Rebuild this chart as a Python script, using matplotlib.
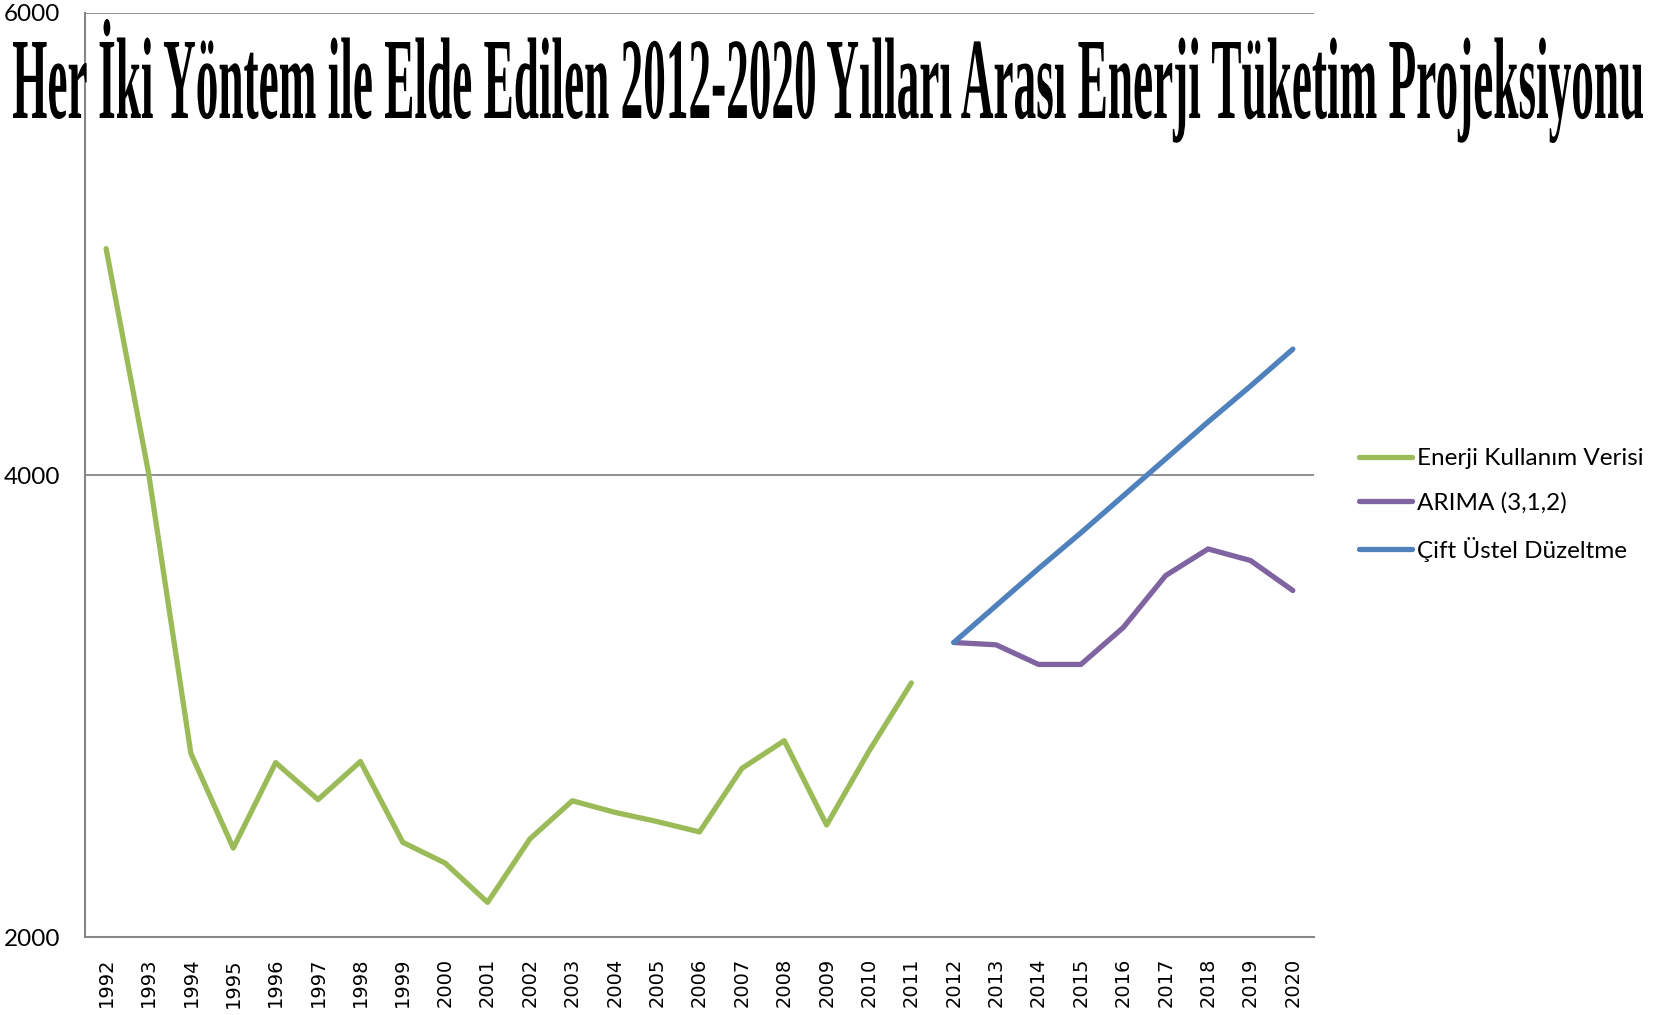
import matplotlib.pyplot as plt
from matplotlib.font_manager import FontProperties
from matplotlib.textpath import TextPath
from matplotlib.patches import PathPatch
from matplotlib.transforms import Affine2D

# Data
years = list(range(1992, 2021))
usage_years = list(range(1992, 2012))
usage = [4980, 4010, 2795, 2385, 2755, 2595, 2760, 2410, 2320, 2150,
         2425, 2590, 2540, 2500, 2455, 2730, 2850, 2485, 2805, 3100]
forecast_years = list(range(2012, 2021))
arima = [3275, 3265, 3180, 3180, 3340, 3565, 3680, 3630, 3500]
holt = [3275, 3435, 3595, 3750, 3910, 4070, 4230, 4385, 4545]

title = 'Her İki Yöntem ile Elde Edilen 2012-2020 Yılları Arası Enerji Tüketim Projeksiyonu'

fig = plt.figure(figsize=(16.75, 10.15), dpi=100)
ax = fig.add_axes([0.0507, 0.0768, 0.7338, 0.9104])

ax.plot(usage_years, usage, color='#9BBB59', lw=3.8, solid_capstyle='round',
        label='Enerji Kullanım Verisi')
ax.plot(forecast_years, arima, color='#8064A2', lw=3.8, solid_capstyle='round',
        label='ARIMA (3,1,2)')
ax.plot(forecast_years, holt, color='#4F81BD', lw=3.8, solid_capstyle='round',
        label='Çift Üstel Düzeltme')

ax.set_xlim(1991.5, 2020.5)
ax.set_ylim(2000, 6000)
ax.set_yticks([2000, 4000, 6000])
ax.set_xticks(years)
ax.set_xticklabels([str(y) for y in years], rotation=90,
                   fontfamily='DejaVu Sans', fontsize=14)
for lbl in ax.get_yticklabels():
    lbl.set_fontfamily('Lato')
    lbl.set_fontsize(17.5)
ax.tick_params(axis='y', length=0, pad=18)
ax.tick_params(axis='x', length=0, pad=15)

ax.grid(axis='y', color='#868686', lw=1.3)
ax.set_axisbelow(True)
for side in ['top', 'right']:
    ax.spines[side].set_visible(False)
for side in ['left', 'bottom']:
    ax.spines[side].set_color('#868686')
    ax.spines[side].set_linewidth(1.5)

ax.legend(loc='upper left', bbox_to_anchor=(0.798, 0.58),
          bbox_transform=fig.transFigure, frameon=False,
          prop=FontProperties(family='Lato', size=17.5),
          handlelength=2.2, handletextpad=0.2, labelspacing=0.95)

# Narrow, tall serif title drawn as a scaled text path
fp = FontProperties(family='Liberation Serif', weight='bold')
tp = TextPath((0, 0), title, prop=fp, size=1)
cap = TextPath((0, 0), 'H', prop=fp, size=1).get_extents()
ext = tp.get_extents()
W, H = fig.get_size_inches() * fig.dpi
x0, x1 = 13, 1643
baseline = 118
cap_px = 76
sx = (x1 - x0) / ext.width
sy = cap_px / cap.height
tr = (Affine2D().translate(-ext.x0, 0).scale(sx, sy)
      .translate(x0, H - baseline).scale(1 / W, 1 / H) + fig.transFigure)
fig.add_artist(PathPatch(tp, transform=tr, facecolor='black',
                         edgecolor='none', zorder=5))

plt.savefig('out.png', dpi=100)
